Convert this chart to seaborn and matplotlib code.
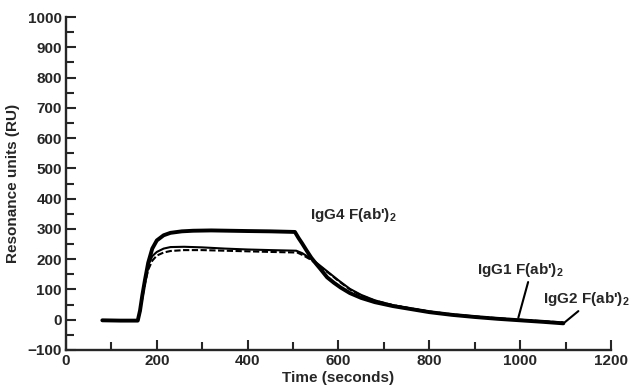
"""
Sensorgram: binding of IgG F(ab')2 fragments, resonance units vs time
"""

import numpy as np
import pandas as pd
import matplotlib
matplotlib.use('Agg')
import matplotlib.pyplot as plt
from matplotlib.ticker import MultipleLocator
import seaborn as sns

# Data
igg4_t = [80, 120, 158, 163, 168, 174, 181, 190, 200, 215, 230, 255, 280, 320, 360, 400, 450,
          504, 512, 520, 530, 540, 550, 560, 575, 590, 605, 625, 650, 680, 720, 760, 800,
          850, 900, 950, 1000, 1050, 1095]
igg4_ru = [-2, -3, -3, 30, 80, 132, 188, 235, 262, 279, 287, 292, 294, 295, 294, 293, 292,
           290, 270, 252, 228, 205, 186, 168, 140, 122, 106, 88, 72, 58, 45, 35, 25,
           16, 9, 3, -2, -7, -12]

igg1_t = [80, 158, 163, 168, 174, 181, 190, 200, 215, 230, 260, 300, 350, 400, 450,
          507, 520, 535, 550, 565, 580, 600, 625, 650, 680, 720, 760, 800,
          850, 900, 950, 1000, 1050, 1095]
igg1_ru = [-2, -3, 30, 80, 130, 180, 210, 224, 235, 240, 241, 239, 235, 232, 230,
           228, 220, 206, 190, 172, 154, 130, 102, 82, 64, 48, 37, 27,
           17, 10, 4, -1, -6, -10]

igg2_t = [80, 158, 163, 168, 174, 181, 190, 200, 215, 230, 260, 300, 350, 400, 450,
          509, 522, 537, 552, 567, 582, 600, 625, 650, 680, 720, 760, 800,
          850, 900, 950, 1000, 1050, 1095]
igg2_ru = [-2, -3, 25, 70, 120, 165, 195, 212, 222, 227, 230, 230, 228, 226, 224,
           222, 213, 200, 184, 167, 150, 128, 100, 80, 63, 48, 37, 27,
           18, 11, 5, 0, -5, -9]

x_ticks = [0, 200, 400, 600, 800, 1000, 1200]
y_ticks = [-100, 0, 100, 200, 300, 400, 500, 600, 700, 800, 900, 1000]

sns.set_style('ticks')
plt.rcParams['font.family'] = ['Liberation Sans', 'DejaVu Sans']
plt.rcParams['mathtext.fontset'] = 'custom'
plt.rcParams['mathtext.rm'] = 'Liberation Sans:bold'
plt.rcParams['mathtext.default'] = 'rm'

fig = plt.figure(figsize=(6.32, 3.88), dpi=100)
ax = fig.add_axes([0.1044, 0.098, 0.8624, 0.858])

df4 = pd.DataFrame({'t': igg4_t, 'ru': igg4_ru})
df1 = pd.DataFrame({'t': igg1_t, 'ru': igg1_ru})
df2 = pd.DataFrame({'t': igg2_t, 'ru': igg2_ru})

sns.lineplot(data=df2, x='t', y='ru', ax=ax, sort=False, color='black', lw=1.5,
             dashes=False, linestyle=(0, (3, 1.2)))
sns.lineplot(data=df1, x='t', y='ru', ax=ax, sort=False, color='black', lw=1.5)
sns.lineplot(data=df4, x='t', y='ru', ax=ax, sort=False, color='black', lw=2.8)

ax.set_xlim(0, 1200)
ax.set_ylim(-100, 1000)
ax.set_xticks(x_ticks)
ax.set_yticks(y_ticks)
ax.xaxis.set_minor_locator(MultipleLocator(100))
ax.yaxis.set_minor_locator(MultipleLocator(50))
ax.tick_params(which='major', direction='in', length=7, width=1.5, labelsize=11, pad=3)
ax.tick_params(which='minor', direction='in', length=6, width=1.5)
for lab in ax.get_xticklabels() + ax.get_yticklabels():
    lab.set_fontweight('bold')

sns.despine(ax=ax)
for s in ['left', 'bottom']:
    ax.spines[s].set_linewidth(1.7)

ax.set_xlabel('Time (seconds)', fontsize=11, fontweight='bold', labelpad=2)
ax.set_ylabel('Resonance units (RU)', fontsize=11, fontweight='bold', labelpad=5)

txt = dict(fontsize=11, fontweight='bold', va='center', ha='left')
ax.text(537, 347, "IgG4 F(ab')$_2$", **txt)
ax.annotate("IgG1 F(ab')$_2$", xy=(996, 7), xytext=(905, 165), annotation_clip=False,
            arrowprops=dict(arrowstyle='-', color='black', lw=1.5,
                            shrinkA=0, shrinkB=0, relpos=(0.6, 0)), **txt)
ax.annotate("IgG2 F(ab')$_2$", xy=(1097, -10), xytext=(1051, 69), annotation_clip=False,
            arrowprops=dict(arrowstyle='-', color='black', lw=1.5,
                            shrinkA=0, shrinkB=0, relpos=(0.45, 0)), **txt)

fig.savefig('out.png', dpi=100)
